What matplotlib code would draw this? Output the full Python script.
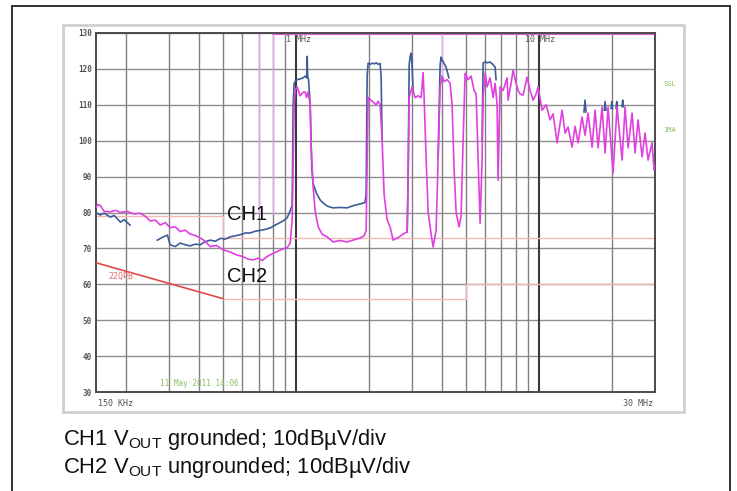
import numpy as np
import matplotlib
matplotlib.use("Agg")
import matplotlib.pyplot as plt
from matplotlib.patches import Rectangle
from matplotlib.ticker import NullLocator

plt.rcParams['mathtext.fontset'] = 'custom'
plt.rcParams['mathtext.rm'] = 'Liberation Sans'

# ---------------- data ----------------
# CH2 (V_OUT ungrounded) - magenta trace, frequency in MHz, level in dBuV
ch2_freq = [0.150, 0.153, 0.156, 0.162, 0.172, 0.181, 0.189, 0.202, 0.215, 0.228,
            0.241, 0.251, 0.263, 0.276, 0.289, 0.303, 0.318, 0.333, 0.349, 0.366,
            0.384, 0.403, 0.422, 0.443, 0.470, 0.501, 0.535, 0.568, 0.605, 0.635,
            0.665, 0.699, 0.725, 0.753, 0.782, 0.827, 0.876, 0.918, 0.945, 0.963,
            0.972, 0.981, 0.991, 1.009, 1.039, 1.069, 1.089, 1.104, 1.120, 1.142,
            1.153, 1.175, 1.197, 1.232, 1.279, 1.342, 1.420, 1.518, 1.622, 1.734,
            1.834, 1.904, 1.941, 1.960, 1.978, 2.055, 2.134, 2.175, 2.216, 2.259,
            2.302, 2.368, 2.436, 2.507, 2.628, 2.756, 2.864, 2.891, 2.918, 3.002,
            3.088, 3.177, 3.269, 3.331, 3.363, 3.428, 3.494, 3.593, 3.663, 3.768,
            3.840, 3.913, 3.988, 4.065, 4.182, 4.302, 4.385, 4.469, 4.555, 4.685,
            4.775, 4.867, 4.960, 5.103, 5.249, 5.401, 5.505, 5.610, 5.717, 5.827,
            5.882, 5.995, 6.109, 6.286, 6.467, 6.591, 6.717, 6.781, 6.911, 7.111,
            7.384, 7.454, 7.669, 7.816, 8.041, 8.196, 8.353, 8.594, 8.925, 9.183,
            9.448, 9.721, 9.906, 10.29, 10.69, 11.10, 11.42, 11.86, 12.44, 12.79,
            13.16, 13.67, 14.06, 14.47, 15.03, 15.46, 15.91, 16.52, 17.00, 17.49,
            18.17, 18.69, 19.23, 20.16, 20.94, 21.96, 22.59, 23.24, 24.14, 24.83,
            25.55, 26.54, 27.30, 28.09, 29.17, 29.73, 30.0]
ch2_level = [81.5, 82.2, 82.0, 80.3, 80.2, 80.6, 80.0, 80.3, 79.6, 79.8,
             78.8, 77.6, 77.9, 76.5, 77.2, 75.8, 76.0, 74.7, 75.1, 74.0,
             73.6, 72.9, 72.0, 70.5, 70.8, 69.6, 69.0, 68.2, 67.7, 67.0,
             66.8, 67.3, 66.6, 67.6, 68.2, 69.0, 69.8, 70.2, 71.5, 78.0,
             95.0, 110.0, 114.0, 115.0, 112.5, 113.5, 113.6, 112.0, 113.6, 110.0,
             98.0, 87.0, 80.5, 76.0, 74.0, 73.2, 71.8, 72.2, 71.8, 72.4,
             72.9, 73.5, 75.0, 95.0, 112.0, 111.0, 110.0, 111.0, 110.0, 100.0,
             85.0, 78.0, 76.0, 72.3, 73.0, 74.0, 74.6, 90.0, 112.0, 115.0,
             112.0, 112.5, 112.0, 119.0, 112.0, 95.0, 80.0, 74.0, 70.4, 75.0,
             95.0, 115.0, 118.0, 116.5, 117.0, 116.0, 110.0, 92.0, 80.0, 76.0,
             79.0, 100.0, 118.8, 117.0, 118.0, 114.0, 113.0, 95.0, 77.0, 95.0,
             112.0, 118.8, 115.0, 117.5, 112.0, 116.0, 110.0, 89.0, 115.0, 114.0,
             117.5, 111.3, 116.0, 119.7, 116.0, 114.0, 113.0, 112.7, 117.7, 114.0,
             111.3, 113.0, 115.0, 108.5, 110.0, 105.8, 107.5, 99.4, 108.5, 102.1,
             103.8, 98.2, 104.0, 99.4, 106.6, 101.5, 107.7, 98.2, 108.5, 98.0,
             109.4, 96.6, 109.4, 91.0, 109.4, 94.6, 109.4, 98.0, 107.7, 96.6,
             105.8, 95.5, 102.1, 94.6, 99.4, 91.8, 93.0]

# CH1 (V_OUT grounded) - blue trace, visible parts only (nan = hidden under CH2)
nan = float('nan')
ch1_freq = [0.150, 0.156, 0.162, 0.172, 0.178, 0.189, 0.196, 0.207, nan,
            0.268, 0.284, 0.295, 0.303, 0.318, 0.333, 0.350, 0.366, 0.385, 0.403,
            0.420, 0.443, 0.465, 0.487, 0.510, 0.535, 0.560, 0.588, 0.620, 0.647,
            0.680, 0.711, 0.745, 0.782, 0.820, 0.859, 0.890, 0.918, 0.945, 0.963,
            0.972, 0.981, 0.991, 1.009, 1.039, 1.069, 1.089, 1.105, 1.110, 1.115,
            1.125, 1.142, 1.160, 1.175, 1.210, 1.255, 1.300, 1.342, 1.380, 1.420,
            1.520, 1.622, 1.700, 1.834, 1.887, 1.920, 1.941, 1.960, 1.978, 2.020,
            2.060, 2.100, 2.134, 2.175, 2.216, 2.237, 2.259, nan,
            2.864, 2.891, 2.918, 2.946, 2.975, 3.000, 3.030, nan,
            3.840, 3.913, 3.950, 3.988, 4.065, 4.140, 4.182, 4.250, nan,
            5.827, 5.882, 5.995, 6.109, 6.286, 6.467, 6.591, 6.650, nan,
            15.30, 15.46, 15.60, nan, 18.55, 18.69, 18.85, nan,
            19.80, 19.92, 20.05, nan, 20.75, 20.88, 21.00, nan, 21.95, 22.10, 22.25]
ch1_level = [80.0, 79.3, 79.8, 78.7, 79.2, 77.3, 78.0, 76.5, nan,
             72.3, 73.2, 73.7, 71.0, 70.5, 71.5, 71.0, 70.7, 71.2, 71.0,
             71.8, 72.3, 72.0, 72.8, 72.6, 73.2, 73.5, 73.8, 74.3, 74.3,
             74.8, 75.0, 75.3, 75.7, 76.5, 77.2, 77.8, 78.5, 80.5, 82.0,
             110.0, 116.0, 116.5, 117.0, 117.2, 117.5, 118.0, 117.5, 123.5, 118.0,
             117.0, 110.0, 92.0, 88.0, 85.5, 83.5, 82.5, 81.8, 81.5, 81.3,
             81.4, 81.3, 81.8, 82.4, 82.6, 82.8, 85.0, 118.0, 121.6, 121.3,
             121.6, 121.4, 121.7, 121.3, 121.5, 118.0, 100.0, nan,
             74.6, 90.0, 121.0, 123.5, 124.4, 121.0, 114.0, nan,
             95.0, 121.0, 123.3, 122.5, 121.5, 120.5, 119.5, 117.5, nan,
             100.0, 121.6, 122.0, 121.7, 121.9, 121.2, 120.5, 117.0, nan,
             108.0, 111.3, 108.0, nan, 108.5, 110.9, 108.5, nan,
             109.0, 110.9, 109.0, nan, 109.0, 110.9, 109.0, nan, 109.5, 111.3, 109.5]

# limit lines (MHz, dBuV)
qpa_freq = [0.15, 0.5, 0.5, 30.0]
qpa_level = [79.0, 79.0, 73.0, 73.0]
qpb_slope_freq = [0.15, 0.5]
qpb_slope_level = [66.0, 56.0]
qpb_flat_freq = [0.5, 5.0, 5.0, 30.0]
qpb_flat_level = [56.0, 56.0, 60.0, 60.0]

y_ticks = [130, 120, 110, 100, 90, 80, 70, 60, 50, 40, 30]
x_grid = [0.2, 0.3, 0.4, 0.5, 0.6, 0.7, 0.8, 0.9, 2, 3, 4, 5, 6, 7, 8, 9, 20]
x_grid_major = [1, 10]

# ---------------- figure ----------------
W, H = 737, 491
fig = plt.figure(figsize=(W / 100, H / 100), dpi=100)

def fx(x):
    return x / W

def fy(y):
    return 1 - y / H

# frames
fig.add_artist(Rectangle((fx(12), fy(495)), fx(730) - fx(12), fy(6) - fy(495),
                         fill=False, ec='#222222', lw=1.3, transform=fig.transFigure))
fig.add_artist(Rectangle((fx(63), fy(412)), fx(684) - fx(63), fy(25) - fy(412),
                         fill=False, ec='#cfcfcf', lw=2.0, transform=fig.transFigure))

ax = fig.add_axes([fx(96), fy(392), fx(655) - fx(96), fy(33) - fy(392)])
ax.set_xscale('log')
ax.set_xlim(0.15, 30)
ax.set_ylim(30, 130)
ax.xaxis.set_minor_locator(NullLocator())
ax.set_xticks([])
ax.set_yticks(y_ticks)
ax.set_yticklabels([str(v) for v in y_ticks], fontsize=5.5, color='#555555',
                   family='DejaVu Sans Mono', fontweight='bold')
ax.tick_params(axis='y', length=0, pad=3)
for s in ax.spines.values():
    s.set_color('#4a4a4a')
    s.set_linewidth(1.4)

for v in y_ticks:
    ax.axhline(v, color='#8f8f8f', lw=1.0, zorder=1)
for f in x_grid:
    ax.axvline(f, color='#808080', lw=1.0, zorder=1)
for f in x_grid_major:
    ax.axvline(f, color='#3a3a3a', lw=1.5, zorder=1)

# magenta overflow marks at top
ax.plot([0.8, 30], [129.7, 129.7], color='#e060e0', lw=1.6, zorder=2, clip_on=False)
ax.plot([0.7, 0.7], [129.7, 80], color='#eaa0ea', lw=1.0, zorder=2)
ax.plot([0.8, 0.8], [129.7, 80], color='#eaa0ea', lw=1.0, zorder=2)
ax.plot([4.0, 4.0], [129.7, 118], color='#eeb0ee', lw=1.0, zorder=2)

# limit lines
ax.plot(qpa_freq, qpa_level, color='#f2b8b8', lw=1.0, zorder=2)
ax.plot(qpb_flat_freq, qpb_flat_level, color='#f2b8b8', lw=1.0, zorder=2)
ax.plot(qpb_slope_freq, qpb_slope_level, color='#e04848', lw=1.2, zorder=3)

# traces
ax.plot(ch1_freq, ch1_level, color='#3d5c98', lw=1.2, zorder=4)
ax.plot(ch2_freq, ch2_level, color='#e040e0', lw=1.2, zorder=5)

# annotations inside chart
mono = 'DejaVu Sans Mono'
fig.text(fx(121), fy(276), '22QPB', color='#e06a6a', fontsize=6, family=mono,
         ha='center', va='center')
fig.text(fx(199), fy(384), '11 May 2011 14:06', color='#8cbf5c', fontsize=5.5,
         family=mono, ha='center', va='center')
fig.text(fx(298), fy(40), '1 MHz', color='#555555', fontsize=6, family=mono,
         ha='center', va='center')
fig.text(fx(540), fy(40), '10 MHz', color='#555555', fontsize=6, family=mono,
         ha='center', va='center')
fig.text(fx(98), fy(404), '150 KHz', color='#555555', fontsize=6, family=mono,
         ha='left', va='center')
fig.text(fx(653), fy(404), '30 MHz', color='#555555', fontsize=6, family=mono,
         ha='right', va='center')
fig.text(fx(670), fy(84), 'SGL', color='#8cbf5c', fontsize=5, family=mono,
         ha='center', va='center')
fig.text(fx(670), fy(130), '1MA', color='#8cbf5c', fontsize=5, family=mono,
         ha='center', va='center')

fig.text(fx(227), fy(215), 'CH1', color='#111111', fontsize=14.5,
         family='Liberation Sans', ha='left', va='center')
fig.text(fx(227), fy(277), 'CH2', color='#111111', fontsize=14.5,
         family='Liberation Sans', ha='left', va='center')

# caption
fig.text(fx(63), fy(440), r'CH1 V$_{\mathrm{OUT}}$ grounded; 10dBµV/div', color='#111111',
         fontsize=15.8, family='Liberation Sans', ha='left', va='center')
fig.text(fx(63), fy(468), r'CH2 V$_{\mathrm{OUT}}$ ungrounded; 10dBµV/div', color='#111111',
         fontsize=15.8, family='Liberation Sans', ha='left', va='center')

fig.savefig('out.png', dpi=100)
